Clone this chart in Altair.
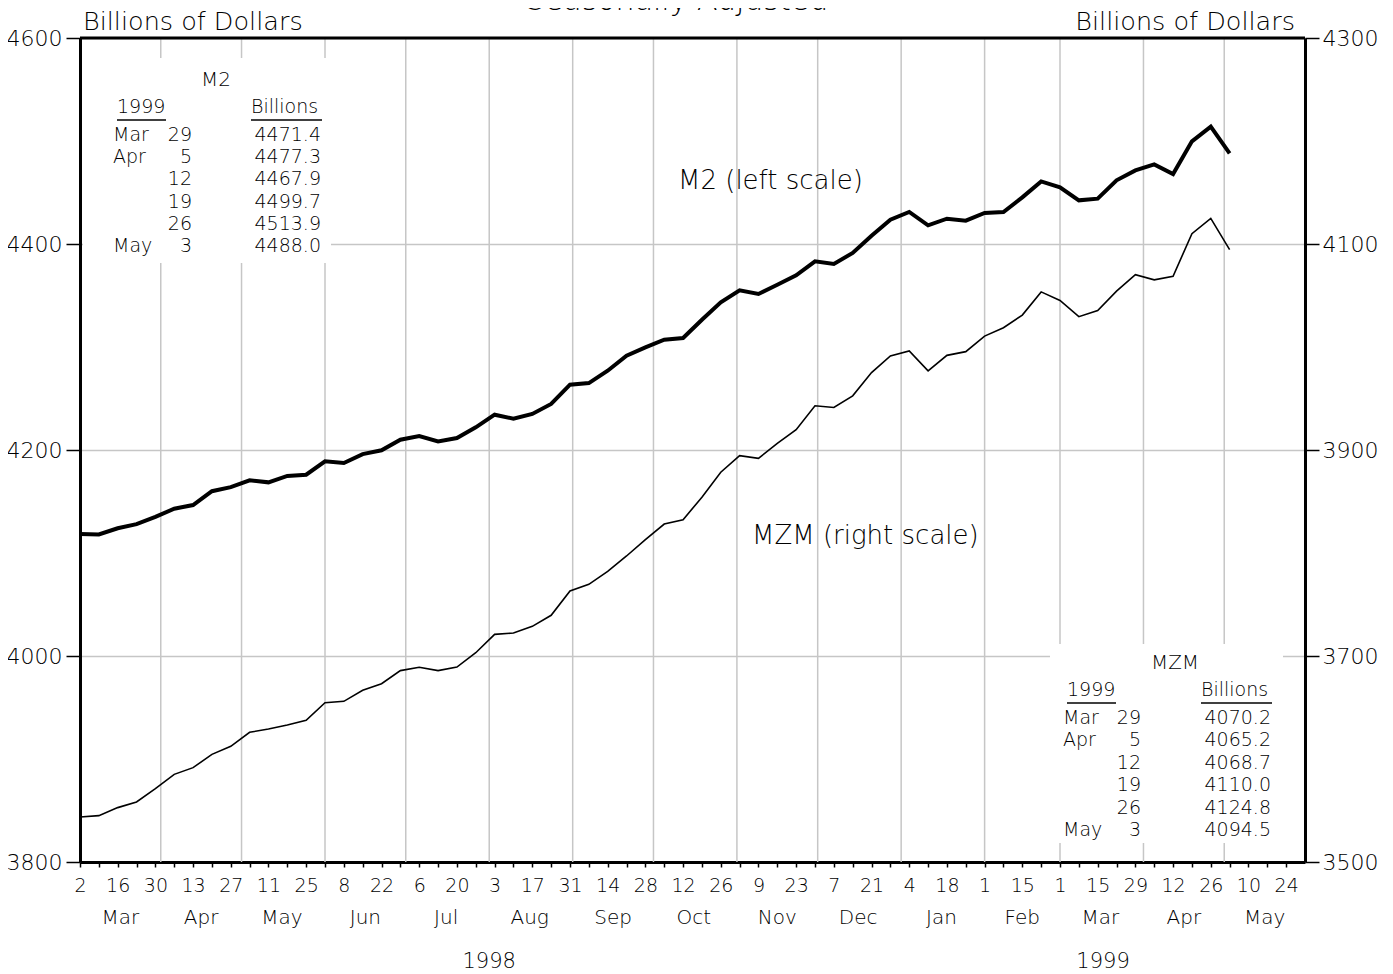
import altair as alt
import pandas as pd

# ---------------- data ----------------
START = "1998-03-02"
m2 = [4118.4, 4118.0, 4124.0, 4128.0, 4135.0, 4143.0, 4146.6, 4160.0, 4164.0, 4170.5,
      4168.6, 4174.8, 4176.0, 4189.0, 4187.4, 4196.0, 4199.7, 4210.0, 4213.6, 4208.4,
      4211.6, 4222.0, 4234.3, 4230.4, 4235.0, 4244.7, 4263.4, 4265.0, 4277.0, 4291.6,
      4299.7, 4307.1, 4308.7, 4326.5, 4343.4, 4355.0, 4351.5, 4360.5, 4369.6, 4383.2,
      4380.6, 4391.3, 4408.1, 4423.6, 4431.1, 4418.1, 4424.6, 4422.7, 4430.1, 4431.1,
      4445.3, 4460.8, 4455.0, 4442.4, 4444.0, 4461.8, 4471.4, 4477.3, 4467.9, 4499.7,
      4513.9, 4488.0]
mzm = [3543.7, 3545.0, 3552.8, 3558.3, 3571.2, 3585.1, 3591.6, 3604.5, 3612.3, 3625.9,
       3629.1, 3633.0, 3637.5, 3654.7, 3656.0, 3666.7, 3673.1, 3685.8, 3689.0, 3685.8,
       3689.3, 3703.2, 3721.0, 3722.3, 3728.8, 3739.5, 3763.1, 3769.6, 3782.2, 3797.1,
       3812.9, 3828.1, 3832.3, 3854.2, 3878.4, 3894.5, 3891.9, 3906.5, 3919.7, 3942.9,
       3941.3, 3952.6, 3975.2, 3991.3, 3996.1, 3976.8, 3991.9, 3995.5, 4010.6, 4018.7,
       4031.0, 4053.5, 4045.2, 4029.4, 4035.5, 4054.2, 4070.2, 4065.2, 4068.7, 4110.0,
       4124.8, 4094.5]

DOMAIN_START = "1998-03-02"
DOMAIN_END = "1999-05-31"
LAST_TICK = "1999-05-24"
month_names = ["Mar", "Apr", "May", "Jun", "Jul", "Aug", "Sep", "Oct", "Nov", "Dec",
               "Jan", "Feb", "Mar", "Apr", "May"]
month_starts = ["1998-04-01", "1998-05-01", "1998-06-01", "1998-07-01", "1998-08-01",
                "1998-09-01", "1998-10-01", "1998-11-01", "1998-12-01", "1999-01-01",
                "1999-02-01", "1999-03-01", "1999-04-01", "1999-05-01"]
year_names = ["1998", "1999"]
year_starts = ["1999-01-01"]
left_ticks = [3800, 4000, 4200, 4400, 4600]
right_ticks = [3500, 3700, 3900, 4100, 4300]
table_months = ["Mar", "Apr", "", "", "", "May"]
table_days = ["29", "5", "12", "19", "26", "3"]

# ---------------- tables ----------------
dates = pd.date_range(START, periods=len(m2), freq="7D")
iso = lambda d: pd.Timestamp(d).strftime("%Y-%m-%dT00:00:00")
df = pd.DataFrame({"date": [iso(d) for d in dates], "m2": m2, "mzm": mzm})

grid_df = pd.DataFrame({"d": [iso(d) for d in month_starts]})

bounds = [pd.Timestamp(DOMAIN_START)] + [pd.Timestamp(d) for d in month_starts] + [pd.Timestamp(DOMAIN_END)]
month_df = pd.DataFrame({
    "d": [iso(bounds[i] + (bounds[i + 1] - bounds[i]) / 2) for i in range(len(month_names))],
    "name": month_names,
})
ybounds = [pd.Timestamp(DOMAIN_START)] + [pd.Timestamp(d) for d in year_starts] + [pd.Timestamp(DOMAIN_END)]
year_df = pd.DataFrame({
    "d": [iso(ybounds[i] + (ybounds[i + 1] - ybounds[i]) / 2) for i in range(len(year_names))],
    "name": year_names,
})

m2_tab = pd.DataFrame({"row": list(range(6)), "mon": table_months, "day": table_days,
                       "val": [f"{v:.1f}" for v in m2[-6:]]})
mzm_tab = pd.DataFrame({"row": list(range(6)), "mon": table_months, "day": table_days,
                        "val": [f"{v:.1f}" for v in mzm[-6:]]})
one = pd.DataFrame({"a": [0]})

# ---------------- styling ----------------
W, H = 1225, 824
FONT = "DejaVu Sans"
FW = 200
GRID = "#c6c6c6"


def dt(s):
    t = pd.Timestamp(s)
    return alt.DateTime(year=t.year, month=t.month, date=t.day)


x_scale = alt.Scale(domain=[dt(DOMAIN_START), dt(DOMAIN_END)])
week_vals = [dt(d) for d in pd.date_range(DOMAIN_START, LAST_TICK, freq="7D")]
x_axis = alt.Axis(
    values=week_vals, title=None, grid=False,
    tickSize=5, tickWidth=1.5, tickColor="black",
    domainColor="black", domainWidth=3,
    labelFont=FONT, labelFontWeight=FW, labelFontSize=19, labelColor="black",
    labelPadding=9, labelOverlap=False, labelFlush=False, labelBound=False,
    labelExpr="(round((datum.value - datetime(1998,2,2)) / 604800000) % 2 == 0) ? timeFormat(datum.value, '%-d') : ''",
)


def X(field):
    return alt.X(field, type="temporal", scale=x_scale, axis=x_axis)


left_axis = alt.Axis(
    values=left_ticks, orient="left", title=None, grid=True, gridColor=GRID, gridWidth=1.5,
    format="d",
    tickSize=14, tickWidth=1.5, tickColor="black", domainColor="black", domainWidth=3,
    labelFont=FONT, labelFontWeight=FW, labelFontSize=22, labelColor="black", labelPadding=4,
)
right_axis = alt.Axis(
    values=right_ticks, orient="right", title=None, grid=False,
    format="d",
    tickSize=14, tickWidth=1.5, tickColor="black", domainColor="black", domainWidth=3,
    labelFont=FONT, labelFontWeight=FW, labelFontSize=22, labelColor="black", labelPadding=3,
)

# ---------------- layers ----------------
vgrid = alt.Chart(grid_df).mark_rule(color=GRID, strokeWidth=1.5).encode(x=X("d"))


def box(x1, x2, y1, y2):
    return alt.Chart(one).mark_rect(fill="white").encode(
        x=alt.value(x1), x2=alt.value(x2), y=alt.value(y1), y2=alt.value(y2))


box_m2 = box(3, 251, 20, 225)
box_mzm = box(970, 1203, 606, 805)

m2_line = alt.Chart(df).mark_line(color="black", strokeWidth=4, strokeJoin="miter").encode(
    x=X("date"),
    y=alt.Y("m2:Q", scale=alt.Scale(domain=[3800, 4600], nice=False, zero=False), axis=left_axis),
)
mzm_line = alt.Chart(df).mark_line(color="black", strokeWidth=1.6, strokeJoin="miter").encode(
    x=X("date"),
    y=alt.Y("mzm:Q", scale=alt.Scale(domain=[3500, 4300], nice=False, zero=False), axis=right_axis),
)


def label(text, x, y, size=20, align="left", baseline="middle"):
    return alt.Chart(one).mark_text(
        text=text, font=FONT, fontWeight=FW, fontSize=size, align=align, baseline=baseline,
        color="black").encode(x=alt.value(x), y=alt.value(y))


def hline(x1, x2, y, width=1.5):
    return alt.Chart(one).mark_rule(color="black", strokeWidth=width).encode(
        x=alt.value(x1), x2=alt.value(x2), y=alt.value(y))


def table_col(data, field, x, y0, step, align):
    return alt.Chart(data).transform_calculate(
        yy=f"{y0} + datum.row * {step}"
    ).mark_text(font=FONT, fontWeight=FW, fontSize=19, align=align, baseline="middle",
                color="black").encode(
        x=alt.value(x), y=alt.Y("yy:Q", scale=None, axis=None), text=f"{field}:N")


m2_table = [
    label("M2", 136, 42, 20, "center"),
    label("1999", 37, 69, 19), hline(37, 86, 82),
    label("Billions", 171, 69, 19), hline(171, 242, 82),
    table_col(m2_tab, "mon", 33, 97, 22.2, "left"),
    table_col(m2_tab, "day", 112, 97, 22.2, "right"),
    table_col(m2_tab, "val", 241, 97, 22.2, "right"),
]
mzm_table = [
    label("MZM", 1095, 625, 20, "center"),
    label("1999", 987, 652, 19), hline(987, 1036, 665),
    label("Billions", 1121, 652, 19), hline(1121, 1192, 665),
    table_col(mzm_tab, "mon", 983, 680, 22.4, "left"),
    table_col(mzm_tab, "day", 1061, 680, 22.4, "right"),
    table_col(mzm_tab, "val", 1191, 680, 22.4, "right"),
]

annots = [
    label("Seasonally Adjusted", 597, -28, 30, "center", "alphabetic"),
    label("Billions of Dollars", 3, -8, 25.5, "left", "alphabetic"),
    label("Billions of Dollars", 1215, -8, 25.5, "right", "alphabetic"),
    label("M2 (left scale)", 598, 143, 26),
    label("MZM (right scale)", 672, 498, 26),
]

top_frame = hline(0, W, 0, 3)

month_txt = alt.Chart(month_df).mark_text(
    font=FONT, fontWeight=FW, fontSize=20, baseline="middle", color="black"
).encode(x=X("d"), y=alt.value(H + 56), text="name:N")
year_txt = alt.Chart(year_df).mark_text(
    font=FONT, fontWeight=FW, fontSize=21, baseline="middle", color="black"
).encode(x=X("d"), y=alt.value(H + 100), text="name:N")

chart = alt.layer(
    vgrid, box_m2, box_mzm, m2_line, mzm_line, top_frame,
    *m2_table, *mzm_table, *annots, month_txt, year_txt
).resolve_scale(y="independent").properties(
    width=W, height=H,
    padding={"left": 72, "top": 30, "right": 80, "bottom": 112},
    autosize=alt.AutoSizeParams(type="none"),
).configure_view(stroke="black", strokeWidth=3).configure(background="white")

chart.save("out.html", embed_options={"renderer": "svg", "actions": False})
